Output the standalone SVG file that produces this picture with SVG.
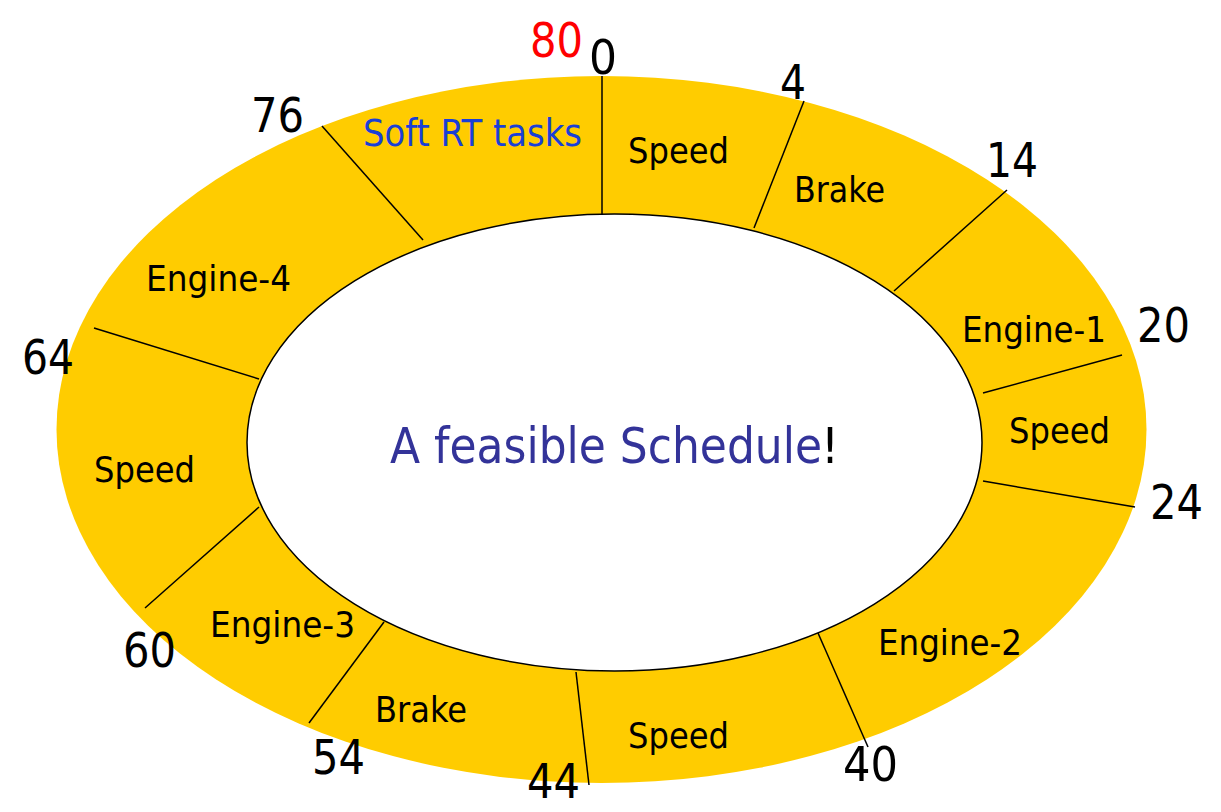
<svg xmlns="http://www.w3.org/2000/svg" width="1221" height="812" viewBox="0 0 1221 812">
<style>
text{font-family:"DejaVu Sans Condensed","DejaVu Sans",sans-serif}
.task{font-size:35px;fill:#000}
.num{font-size:48px;fill:#000}
.div{stroke:#000;stroke-width:1.5;fill:none}
</style>
<rect width="1221" height="812" fill="#fff"/>
<g id="ring">
<ellipse cx="601.5" cy="429.5" rx="545" ry="353.5" fill="#FFCC00"/>
<ellipse cx="614.5" cy="442.5" rx="367.5" ry="228.5" fill="#fff" stroke="#000" stroke-width="1.5"/>
</g>
<g id="connectors">
<line class="div" x1="602" y1="76" x2="602" y2="214"/>
<line class="div" x1="804" y1="101" x2="754" y2="228"/>
<line class="div" x1="1007" y1="190" x2="894" y2="291"/>
<line class="div" x1="1122" y1="355" x2="983" y2="393"/>
<line class="div" x1="1135" y1="507" x2="983" y2="481"/>
<line class="div" x1="868" y1="747" x2="818" y2="633"/>
<line class="div" x1="589" y1="785" x2="576" y2="672"/>
<line class="div" x1="309" y1="723" x2="384" y2="622"/>
<line class="div" x1="145" y1="608" x2="259" y2="507"/>
<line class="div" x1="94" y1="328" x2="259" y2="379"/>
<line class="div" x1="322" y1="126" x2="423" y2="240"/>
</g>
<g id="times">
<text class="num" x="530" y="57" style="fill:#FF0000" textLength="53" lengthAdjust="spacingAndGlyphs">80</text>
<text class="num" x="589" y="74" textLength="28" lengthAdjust="spacingAndGlyphs">0</text>
<text class="num" x="780" y="99" textLength="26" lengthAdjust="spacingAndGlyphs">4</text>
<text class="num" x="986" y="177" textLength="52" lengthAdjust="spacingAndGlyphs">14</text>
<text class="num" x="1137" y="342" textLength="53" lengthAdjust="spacingAndGlyphs">20</text>
<text class="num" x="1150" y="519" textLength="53" lengthAdjust="spacingAndGlyphs">24</text>
<text class="num" x="843" y="781" textLength="55" lengthAdjust="spacingAndGlyphs">40</text>
<text class="num" x="527" y="798" textLength="53" lengthAdjust="spacingAndGlyphs">44</text>
<text class="num" x="312" y="774" textLength="53" lengthAdjust="spacingAndGlyphs">54</text>
<text class="num" x="123" y="667" textLength="53" lengthAdjust="spacingAndGlyphs">60</text>
<text class="num" x="22" y="374" textLength="52" lengthAdjust="spacingAndGlyphs">64</text>
<text class="num" x="251" y="132" textLength="53" lengthAdjust="spacingAndGlyphs">76</text>
</g>
<g id="task-speed-1"><text class="task" x="628" y="163" textLength="101" lengthAdjust="spacingAndGlyphs">Speed</text></g>
<g id="task-brake-1"><text class="task" x="794" y="202" textLength="91" lengthAdjust="spacingAndGlyphs">Brake</text></g>
<g id="task-engine-1"><text class="task" x="962" y="342" textLength="144" lengthAdjust="spacingAndGlyphs">Engine-1</text></g>
<g id="task-speed-2"><text class="task" x="1009" y="443" textLength="101" lengthAdjust="spacingAndGlyphs">Speed</text></g>
<g id="task-engine-2"><text class="task" x="878" y="655" textLength="144" lengthAdjust="spacingAndGlyphs">Engine-2</text></g>
<g id="task-speed-3"><text class="task" x="628" y="748" textLength="101" lengthAdjust="spacingAndGlyphs">Speed</text></g>
<g id="task-brake-2"><text class="task" x="375" y="722" textLength="92" lengthAdjust="spacingAndGlyphs">Brake</text></g>
<g id="task-engine-3"><text class="task" x="210" y="637" textLength="145" lengthAdjust="spacingAndGlyphs">Engine-3</text></g>
<g id="task-speed-4"><text class="task" x="94" y="482" textLength="101" lengthAdjust="spacingAndGlyphs">Speed</text></g>
<g id="task-engine-4"><text class="task" x="146" y="291" textLength="145" lengthAdjust="spacingAndGlyphs">Engine-4</text></g>
<g id="task-soft"><text x="363" y="146" font-size="37" fill="#1A3FD6" textLength="219" lengthAdjust="spacingAndGlyphs">Soft RT tasks</text></g>
<g id="title">
<text x="390" y="463" font-size="50" fill="#333399" textLength="432" lengthAdjust="spacingAndGlyphs">A feasible Schedule</text>
<text x="821" y="463" font-size="50" fill="#000">!</text>
</g>
</svg>
